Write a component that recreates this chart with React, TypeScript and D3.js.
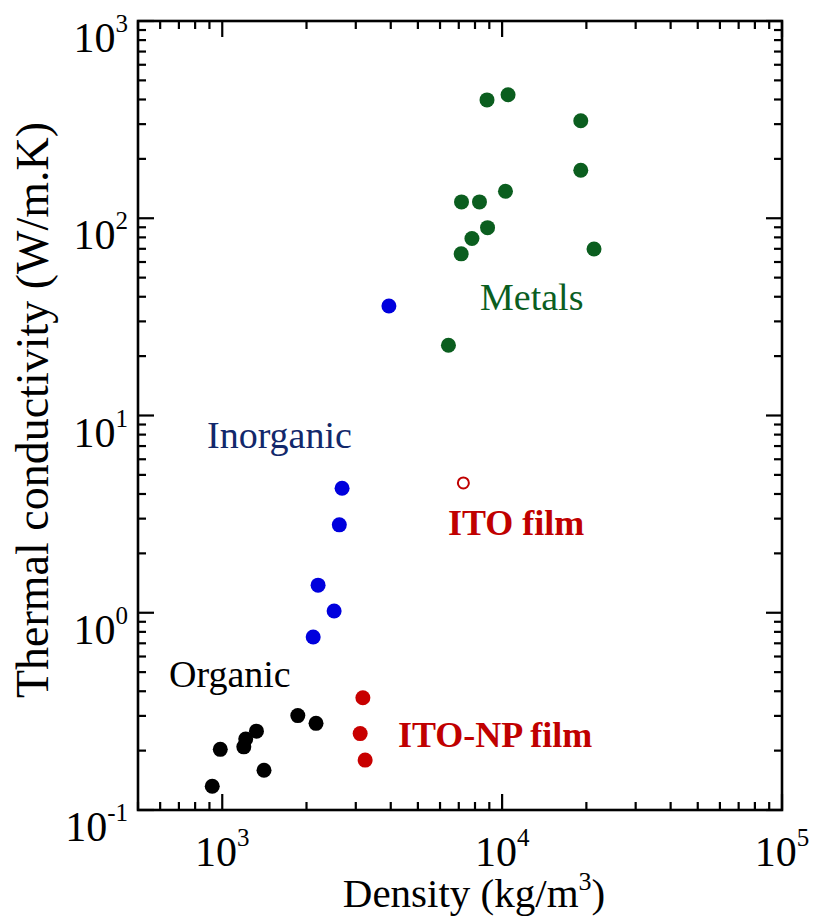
import React from "react";
import * as d3 from "d3";

const organicDensity = [921, 984, 1194, 1213, 1325, 1410, 1862, 2163];
const organicK = [0.132, 0.203, 0.209, 0.229, 0.251, 0.159, 0.301, 0.275];

const inorganicDensity = [3940, 2680, 2620, 2200, 2510, 2113];
const inorganicK = [35.9, 4.28, 2.79, 1.38, 1.02, 0.753];

const metalsDensity = [8830, 10500, 19100, 19100, 10280, 7160, 8300, 8870, 7800, 7140, 21300, 6430];
const metalsK = [398, 423, 312, 175, 137, 121, 121, 89.6, 79, 66, 69.8, 22.7];

const itoNpDensity = [3180, 3110, 3240];
const itoNpK = [0.371, 0.244, 0.179];

const itoFilmDensity = [7270];
const itoFilmK = [4.55];

const xMajorExp = [3, 4, 5];
const yMajorExp = [-1, 0, 1, 2, 3];

const W = 816;
const H = 921;
const L = 138, R = 782, T = 21, B = 810;

const x = d3.scaleLog().domain([500, 1e5]).range([L, R]);
const y = d3.scaleLog().domain([0.1, 1000]).range([B, T]);

const serif = "'Liberation Serif', 'Times New Roman', serif";

function minorTicks(lo: number, hi: number): number[] {
  const out: number[] = [];
  for (let e = Math.floor(Math.log10(lo)); e <= Math.ceil(Math.log10(hi)); e++) {
    for (let m = 1; m <= 9; m++) {
      const v = m * Math.pow(10, e);
      if (v >= lo * 0.999 && v <= hi * 1.001) out.push(v);
    }
  }
  return out;
}

export default function App() {
  const xt = minorTicks(500, 1e5);
  const yt = minorTicks(0.1, 1000);
  const isMajor = (v: number) => Math.abs(Math.log10(v) - Math.round(Math.log10(v))) < 1e-6;
  const MAJ = 16, MIN = 8;

  const dots = (xs: number[], ys: number[], color: string, key: string) =>
    xs.map((d, i) => (
      <circle key={key + i} cx={x(d)} cy={y(ys[i])} r={7.5} fill={color} />
    ));

  return (
    <svg width={W} height={H} style={{ position: "absolute", left: 0, top: 0, background: "#fff" }}>
      <rect x={0} y={0} width={W} height={H} fill="#fff" />
      {/* ticks */}
      <g stroke="#000" strokeWidth={2.2}>
        {xt.map((v, i) => {
          const len = isMajor(v) ? MAJ : MIN;
          return (
            <g key={"xt" + i}>
              <line x1={x(v)} x2={x(v)} y1={B} y2={B - len} />
              <line x1={x(v)} x2={x(v)} y1={T} y2={T + len} />
            </g>
          );
        })}
        {yt.map((v, i) => {
          const len = isMajor(v) ? MAJ : MIN;
          return (
            <g key={"yt" + i}>
              <line x1={L} x2={L + len} y1={y(v)} y2={y(v)} />
              <line x1={R} x2={R - len} y1={y(v)} y2={y(v)} />
            </g>
          );
        })}
      </g>
      <rect x={L} y={T} width={R - L} height={B - T} fill="none" stroke="#000" strokeWidth={2.6} />

      {/* x tick labels */}
      {xMajorExp.map((e) => (
        <text key={"xl" + e} x={x(Math.pow(10, e))} y={866} textAnchor="middle" fontFamily={serif} fontSize={42}>
          10<tspan fontSize={25} dy={-20}>{e}</tspan>
        </text>
      ))}
      {/* y tick labels */}
      {yMajorExp.map((e) => (
        <text key={"yl" + e} x={128} y={y(Math.pow(10, e)) + 31} textAnchor="end" fontFamily={serif} fontSize={42}>
          10<tspan fontSize={25} dy={-20}>{e}</tspan>
        </text>
      ))}

      {/* axis titles */}
      <text x={474} y={907} textAnchor="middle" fontFamily={serif} fontSize={41}>
        Density (kg/m<tspan fontSize={26} dy={-17}>3</tspan><tspan dy={17}>)</tspan>
      </text>
      <text transform={`translate(48,410) rotate(-90)`} textAnchor="middle" fontFamily={serif} fontSize={46}>
        Thermal conductivity (W/m.K)
      </text>

      {/* points */}
      {dots(organicDensity, organicK, "#000000", "o")}
      {dots(inorganicDensity, inorganicK, "#0000dd", "i")}
      {dots(metalsDensity, metalsK, "#0b5e1f", "m")}
      {dots(itoNpDensity, itoNpK, "#c80000", "n")}
      {itoFilmDensity.map((d, i) => (
        <circle key={"f" + i} cx={x(d)} cy={y(itoFilmK[i])} r={5.5} fill="none" stroke="#c00000" strokeWidth={2} />
      ))}

      {/* annotations */}
      <text x={480} y={310} fontFamily={serif} fontSize={38} fill="#0b5e1f">Metals</text>
      <text x={207} y={448} fontFamily={serif} fontSize={38} fill="#12286b">Inorganic</text>
      <text x={169} y={687} fontFamily={serif} fontSize={38} fill="#000">Organic</text>
      <text x={448} y={535} fontFamily={serif} fontSize={36} fontWeight="bold" fill="#c00000">ITO film</text>
      <text x={398} y={747} fontFamily={serif} fontSize={36} fontWeight="bold" fill="#c00000">ITO-NP film</text>
    </svg>
  );
}
